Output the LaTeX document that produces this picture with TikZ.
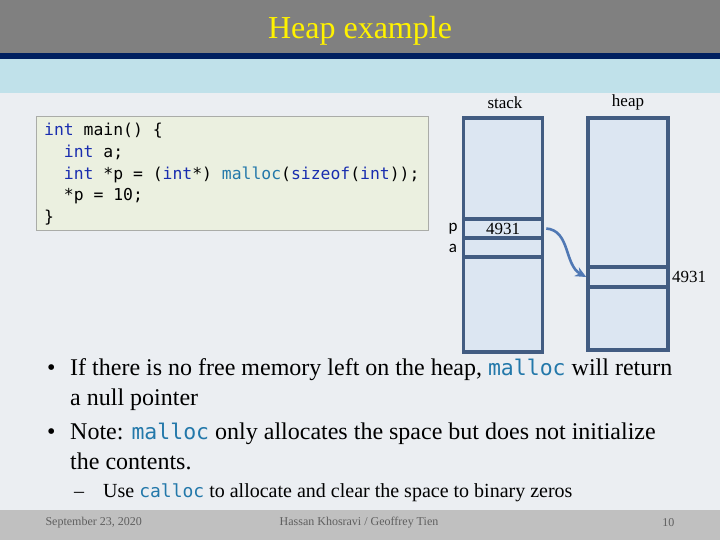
\documentclass[tikz,border=0pt]{standalone}
\usepackage{fontspec}
\setmainfont{Liberation Serif}
\setmonofont{DejaVu Sans Mono}
\newfontfamily\labelfont{Carlito}
\usetikzlibrary{positioning, arrows.meta}
\definecolor{titlegray}{RGB}{128,128,128}
\definecolor{titlenavy}{RGB}{0,32,96}
\definecolor{bandblue}{RGB}{192,225,234}
\definecolor{bodygray}{RGB}{235,238,242}
\definecolor{footgray}{RGB}{192,192,192}
\definecolor{foottext}{RGB}{95,95,95}
\definecolor{codefill}{RGB}{235,240,224}
\definecolor{codeedge}{RGB}{170,172,168}
\definecolor{codekw}{RGB}{25,45,175}
\definecolor{fncolor}{RGB}{35,120,170}
\definecolor{memfill}{RGB}{220,230,242}
\definecolor{memedge}{RGB}{66,92,130}
\definecolor{ptrarrow}{RGB}{80,120,180}
\newcommand{\kw}[1]{\textcolor{codekw}{#1}}
\newcommand{\fnname}[2]{\textcolor{fncolor}{\ttfamily\fontsize{#1}{#1}\selectfont #2}}

\begin{document}
\begin{tikzpicture}[x=1pt, y=-1pt, >=Stealth,
    cell/.style={draw=memedge, line width=3.6pt, fill=memfill, inner sep=0pt, minimum width=79pt},
    memlabel/.style={font=\fontsize{17}{17}\selectfont},
    bullettext/.style={anchor=base west, inner sep=0pt, font=\fontsize{24}{24}\selectfont},
    foot/.style={text=foottext, font=\fontsize{12}{12}\selectfont}]
  \useasboundingbox (0,0) rectangle (720,540);
  % Slide background
  \fill[bodygray] (0,93) rectangle (720,510);
  \fill[titlegray] (0,0) rectangle (720,53);
  \fill[titlenavy] (0,53) rectangle (720,59);
  \fill[bandblue] (0,59) rectangle (720,93);
  \fill[footgray] (0,510) rectangle (720,540);
  \node[text=yellow, font=\fontsize{32}{32}\selectfont] (title) at (360,31) {Heap example};
  % Code
  \node[draw=codeedge, fill=codefill, anchor=north west, minimum width=392pt, minimum height=114pt] (codebox) at (36,116) {};
  \node[anchor=north west, inner sep=0pt, align=left, font=\ttfamily\fontsize{16.4}{21.7}\selectfont] (code) at (44,123)
    {\kw{int} main() \{\\
     \hphantom{xx}\kw{int} a;\\
     \hphantom{xx}\kw{int} *p = (\kw{int}*) \textcolor{fncolor}{malloc}(\kw{sizeof}(\kw{int}));\\
     \hphantom{xx}*p = 10;\\
     \}};
  % Stack and heap
  \node[memlabel] (stacklbl) at (505,103) {stack};
  \node[memlabel] (heaplbl) at (628,102) {heap};
  \node[cell, minimum height=234pt] (stack) at (503,235) {};
  \node[cell, minimum height=19pt, memlabel] (pcell) at (503,228.5) {4931};
  \node[cell, minimum height=19pt] (acell) at (503,247.5) {};
  \node[cell, minimum width=80pt, minimum height=232pt] (heap) at (628,234) {};
  \node[cell, minimum width=80pt, minimum height=20pt] (hcell) at (628,277) {};
  \node[memlabel] (haddr) at (689,277) {4931};
  \node[font=\labelfont\fontsize{17}{17}\selectfont] (plbl) at (453,229) {p};
  \node[font=\labelfont\fontsize{17}{17}\selectfont] (albl) at (453,248) {a};
  \draw[-{Stealth[length=11pt, width=10pt]}, ptrarrow, line width=2.6pt] ([xshift=2pt]pcell.east) .. controls +(24,2) and +(-22,-12) .. (hcell.west);
  % Bullets
  \node[bullettext] (b1) at (47,375) {\textbullet};
  \node[bullettext] (t1) at (70,375) {If there is no free memory left on the heap, \fnname{21.5}{malloc} will return};
  \node[bullettext] (t1b) at (70,405) {a null pointer};
  \node[bullettext] (b2) at (47,439) {\textbullet};
  \node[bullettext] (t2) at (70,439) {Note: \fnname{21.5}{malloc} only allocates the space but does not initialize};
  \node[bullettext] (t2b) at (70,469) {the contents.};
  \node[bullettext, font=\fontsize{20}{20}\selectfont] (d1) at (74,497) {--};
  \node[bullettext, font=\fontsize{20}{20}\selectfont] (t3) at (103,497) {Use \fnname{18}{calloc} to allocate and clear the space to binary zeros};
  % Footer
  \node[foot, anchor=west] (date) at (42,523) {September 23, 2020};
  \node[foot] (authors) at (359,523) {Hassan Khosravi / Geoffrey Tien};
  \node[foot, anchor=east] (page) at (678,523) {10};
\end{tikzpicture}
\end{document}
